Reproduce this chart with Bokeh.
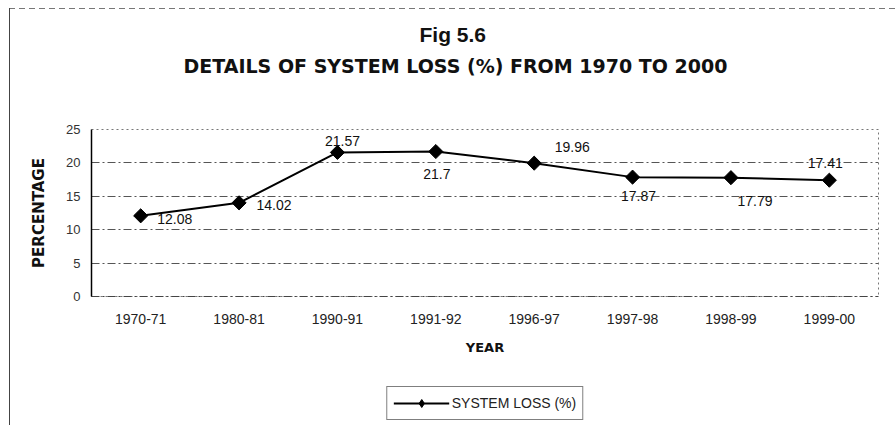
import numpy as np
from bokeh.plotting import figure
from bokeh.layouts import column
from bokeh.models import Title, Legend, LegendItem, ColumnDataSource, FixedTicker
from bokeh.core.properties import value
from bokeh.embed import file_html
from bokeh.resources import INLINE

years = ["1970-71", "1980-81", "1990-91", "1991-92", "1996-97", "1997-98", "1998-99", "1999-00"]
system_loss = [12.08, 14.02, 21.57, 21.7, 19.96, 17.87, 17.79, 17.41]
value_labels = ["12.08", "14.02", "21.57", "21.7", "19.96", "17.87", "17.79", "17.41"]
y_ticks = [0, 5, 10, 15, 20, 25]

# label placement (style only, screen pixels)
lab_dx = [34, 35, 5, 1, 38, 6, 24, -4]
lab_dy = [3, 2, -11, 22, -16, 19, 23, -17]

src = ColumnDataSource(dict(x=years, y=system_loss, t=value_labels, dx=lab_dx, dy=lab_dy))

p = figure(x_range=years, y_range=(0, 25), width=896, height=385,
           output_backend="svg", toolbar_location=None,
           min_border_left=91, min_border_right=18, min_border_top=129, min_border_bottom=89)
p.border_fill_color = None
p.background_fill_color = "white"

p.title.visible = False
spacer_top = Title(text=" ", text_font_size="10px", standoff=37)
t2 = Title(text="DETAILS OF SYSTEM LOSS (%)  FROM 1970 TO 2000", align="left", offset=92,
           text_font="DejaVu Sans", text_font_style="bold", text_font_size="19px",
           text_color="#111", standoff=6)
t1 = Title(text="Fig 5.6", align="left", offset=328, text_font="Liberation Sans",
           text_font_style="bold", text_font_size="21px", text_color="#111", standoff=7)
p.add_layout(spacer_top, "above")
p.add_layout(t2, "above")
p.add_layout(t1, "above")

p.outline_line_color = "#777"
p.outline_line_dash = "2 3"

p.xgrid.grid_line_color = None
p.ygrid.ticker = FixedTicker(ticks=[5, 10, 15, 20])
p.ygrid.grid_line_color = "#555"
p.ygrid.grid_line_dash = "8 3 2 3"
p.ygrid.grid_line_width = 1

p.yaxis.ticker = FixedTicker(ticks=y_ticks)
p.yaxis.axis_line_color = "black"
p.yaxis.axis_line_width = 1.5
p.yaxis.major_tick_out = 0
p.yaxis.major_tick_in = 0
p.yaxis.minor_tick_line_color = None
p.yaxis.major_label_standoff = 11
p.yaxis.major_label_text_font = "Liberation Sans"
p.yaxis.major_label_text_font_size = "13px"
p.yaxis.major_label_text_color = "#333"
p.yaxis.axis_label = "PERCENTAGE"
p.yaxis.axis_label_text_font = "DejaVu Sans"
p.yaxis.axis_label_text_font_style = "bold"
p.yaxis.axis_label_text_font_size = "15px"
p.yaxis.axis_label_text_color = "#111"
p.yaxis.axis_label_standoff = 15

p.xaxis.axis_line_color = "#444"
p.xaxis.axis_line_dash = "8 3 2 3"
p.xaxis.major_tick_line_color = None
p.xaxis.major_tick_out = 0
p.xaxis.major_tick_in = 0
p.xaxis.major_label_standoff = 17
p.xaxis.major_label_text_font = "Liberation Sans"
p.xaxis.major_label_text_font_size = "14px"
p.xaxis.major_label_text_color = "#222"
p.xaxis.axis_label = "YEAR"
p.xaxis.axis_label_text_font = "DejaVu Sans"
p.xaxis.axis_label_text_font_style = "bold"
p.xaxis.axis_label_text_font_size = "13px"
p.xaxis.axis_label_text_color = "#111"
p.xaxis.axis_label_standoff = 13

p.line("x", "y", source=src, line_color="black", line_width=2)
p.scatter("x", "y", source=src, marker="square", angle=np.pi / 4, size=10,
          fill_color="black", line_color="black")
p.text("x", "y", text="t", source=src, x_offset="dx", y_offset="dy",
       text_align="center", text_baseline="middle",
       text_font=value("Liberation Sans"), text_font_size="14px", text_color="#111")

# legend strip below the chart (its own renderers fall outside its view range)
lg = figure(width=896, height=40, output_backend="svg", toolbar_location=None,
            x_range=years, y_range=(100, 101), x_axis_type=None, y_axis_type=None,
            min_border_left=91, min_border_right=18, min_border_top=0, min_border_bottom=4)
lg.border_fill_color = None
lg.background_fill_color = None
lg.outline_line_color = None
lg.xgrid.visible = False
lg.ygrid.visible = False
lg_ln = lg.line("x", "y", source=src, line_color="black", line_width=2)
lg_mk = lg.scatter("x", "y", source=src, marker="diamond", size=14,
                   fill_color="black", line_color="black")
legend = Legend(items=[LegendItem(label="SYSTEM LOSS (%)", renderers=[lg_ln, lg_mk])],
                location="center", orientation="horizontal",
                border_line_color="black", border_line_width=1,
                background_fill_color="white",
                padding=6, margin=0, glyph_width=56, label_standoff=3,
                label_text_font="Liberation Sans", label_text_font_size="14px",
                label_text_color="#222")
lg.add_layout(legend)

layout = column(p, lg, spacing=0)
layout.styles = {
    "background-image": "linear-gradient(#444, #444), repeating-linear-gradient(to right, #777 0px, #777 6px, transparent 6px, transparent 10px)",
    "background-size": "1px calc(100% - 8px), calc(100% - 10px) 1px",
    "background-position": "9px 8px, 9px 8px",
    "background-repeat": "no-repeat",
    "background-color": "white",
}

open("out.html", "w").write(file_html(layout, INLINE))
